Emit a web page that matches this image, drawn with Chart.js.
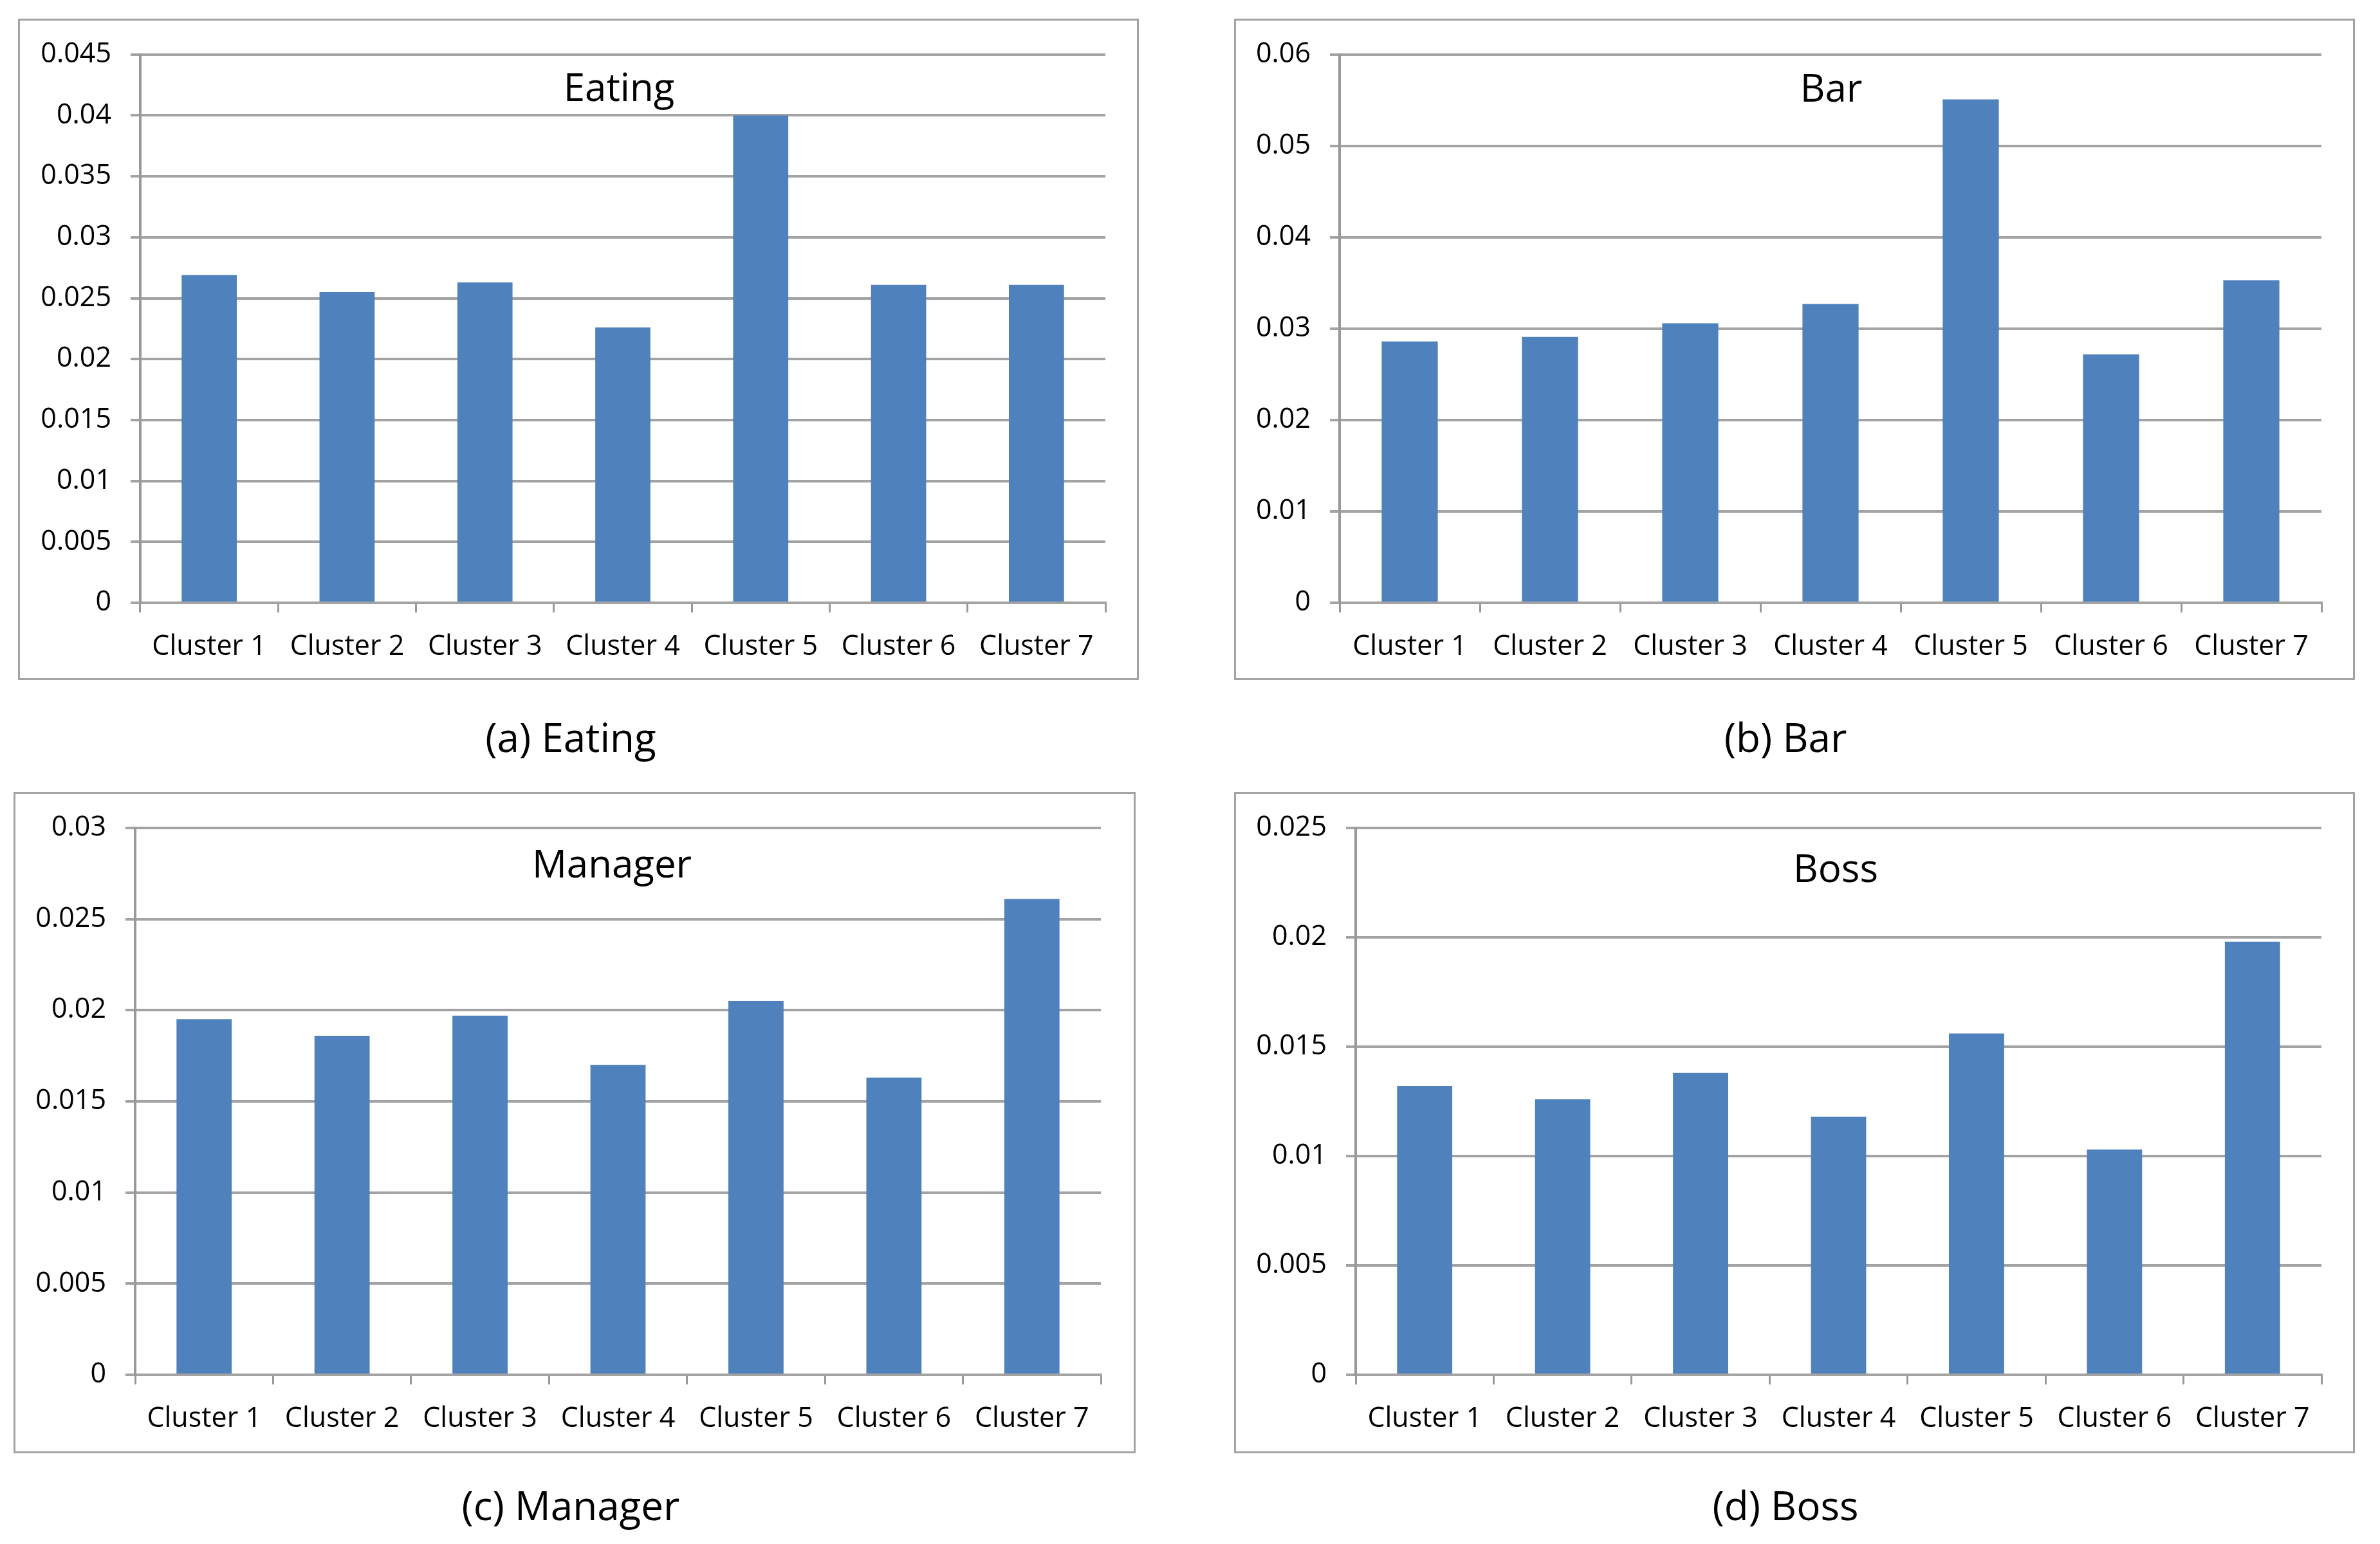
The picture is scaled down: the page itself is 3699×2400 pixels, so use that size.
<!DOCTYPE html>
<html>
<head>
<meta charset="utf-8">
<script src="https://cdn.jsdelivr.net/npm/chart.js@4.4.1/dist/chart.umd.min.js"></script>
<style>
  body { margin: 0; background: #fff; width: 3699px; height: 2400px; position: relative; overflow: hidden; }
  .box { position: absolute; box-sizing: border-box; border: 3px solid #a3a3a3; }
  canvas { position: absolute; }
  .txt { position: absolute; font-family: 'Open Sans', sans-serif; color: #000; line-height: 1; white-space: nowrap; transform: translateX(-50%); }
</style>
</head>
<body>
<script>
var clusters = ["Cluster 1", "Cluster 2", "Cluster 3", "Cluster 4", "Cluster 5", "Cluster 6", "Cluster 7"];

var eating  = [0.0269, 0.0255, 0.0263, 0.0226, 0.0400, 0.0261, 0.0261];
var bar     = [0.0286, 0.0291, 0.0306, 0.0327, 0.0551, 0.0272, 0.0353];
var manager = [0.0195, 0.0186, 0.0197, 0.0170, 0.0205, 0.0163, 0.0261];
var boss    = [0.0132, 0.0126, 0.0138, 0.0118, 0.0156, 0.0103, 0.0198];

var titles   = ["Eating", "Bar", "Manager", "Boss"];
var captions = ["(a) Eating", "(b) Bar", "(c) Manager", "(d) Boss"];
var yMax  = [0.045, 0.06, 0.03, 0.025];
var yStep = [0.005, 0.01, 0.005, 0.005];

// where each panel sits on the page
var panels = [
  { data: eating,  box: [28, 29, 1742, 1028],   yW: 190, padT: 54, padR: 52, xH: 120, title: [962, 104],   cap: [887, 1114] },
  { data: bar,     box: [1918, 29, 1742, 1028], yW: 164, padT: 54, padR: 52, xH: 120, title: [2846, 105],  cap: [2775, 1114] },
  { data: manager, box: [21, 1231, 1744, 1028], yW: 189, padT: 53, padR: 54, xH: 122, title: [951, 1311],  cap: [887, 2308] },
  { data: boss,    box: [1918, 1231, 1742, 1028], yW: 189, padT: 53, padR: 52, xH: 122, title: [2853, 1318], cap: [2775, 2308] }
];

Chart.defaults.font.family = "'Open Sans', sans-serif";
Chart.defaults.font.size = 43;
Chart.defaults.color = "#000";

panels.forEach(function (p, i) {
  var b = p.box;

  var frame = document.createElement("div");
  frame.className = "box";
  frame.style.left = b[0] + "px"; frame.style.top = b[1] + "px";
  frame.style.width = b[2] + "px"; frame.style.height = b[3] + "px";
  document.body.appendChild(frame);

  var cv = document.createElement("canvas");
  cv.width = b[2]; cv.height = b[3];
  cv.style.left = b[0] + "px"; cv.style.top = b[1] + "px";
  document.body.appendChild(cv);

  var t = document.createElement("div");
  t.className = "txt";
  t.style.fontSize = "60px";
  t.style.left = p.title[0] + "px"; t.style.top = p.title[1] + "px";
  t.textContent = titles[i];
  document.body.appendChild(t);

  var c = document.createElement("div");
  c.className = "txt";
  c.style.fontSize = "62px";
  c.style.left = p.cap[0] + "px"; c.style.top = p.cap[1] + "px";
  c.textContent = captions[i];
  document.body.appendChild(c);

  new Chart(cv, {
    type: "bar",
    data: {
      labels: clusters,
      datasets: [{
        data: p.data,
        backgroundColor: "#4f81bd",
        borderWidth: 0,
        barPercentage: 0.4,
        categoryPercentage: 1
      }]
    },
    options: {
      responsive: false,
      animation: false,
      devicePixelRatio: 1,
      layout: { padding: { left: 0, top: p.padT, right: p.padR, bottom: 0 } },
      plugins: { legend: { display: false }, tooltip: { enabled: false } },
      scales: {
        x: {
          grid: { drawOnChartArea: false, drawTicks: true, tickLength: 15, color: "#999", lineWidth: 3 },
          border: { display: true, color: "#a3a3a3", width: 4 },
          ticks: { padding: 28, maxRotation: 0, autoSkip: false },
          afterFit: function (s) { s.height = p.xH; }
        },
        y: {
          min: 0,
          max: yMax[i],
          grid: { color: "#a3a3a3", lineWidth: 4, tickLength: 15 },
          border: { display: true, color: "#999", width: 4 },
          ticks: {
            stepSize: yStep[i],
            padding: 30,
            callback: function (v) { return String(Number(v.toFixed(4))); }
          },
          afterFit: function (s) { s.width = p.yW; }
        }
      }
    }
  });
});
</script>
</body>
</html>
